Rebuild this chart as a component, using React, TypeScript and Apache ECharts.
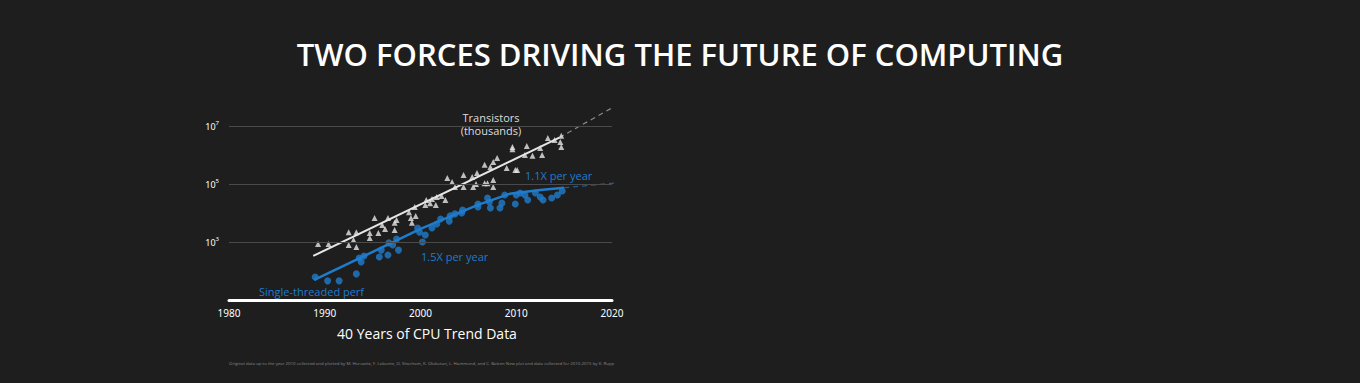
import React, { useEffect, useRef } from "react";
import * as echarts from "echarts";

// Transistor counts (thousands): [year, log10 value]
const transistorYears = [
  1989.3, 1990.4, 1992.5, 1993.3, 1992.5, 1993.3, 1993.0, 1994.7, 1994.7, 1995.2,
  1995.6, 1996.0, 1996.3, 1996.6, 1997.3, 1997.5, 1997.3, 1998.8, 1999.0, 1999.4,
  1999.1, 1999.5, 2000.5, 2000.6, 2001.0, 2001.2, 2001.6, 2001.7, 2002.2, 2002.6,
  2002.8, 2003.3, 2003.6, 2004.5, 2004.5, 2005.4, 2005.5, 2005.8, 2005.9, 2006.7,
  2006.7, 2007.0, 2007.3, 2007.6, 2007.6, 2007.6, 2008.0, 2009.0, 2009.6, 2009.6,
  2009.9, 2010.1, 2010.9, 2011.1, 2011.7, 2012.5, 2012.7, 2013.3, 2014.0, 2014.7,
  2014.6, 2014.7,
];
const transistorLog = [
  2.93, 2.93, 3.34, 3.34, 2.9, 2.83, 3.07, 3.31, 3.14, 3.83,
  3.31, 3.59, 3.45, 3.83, 3.66, 3.76, 3.41, 4.03, 3.83, 4.21,
  3.66, 3.9, 4.28, 4.45, 4.34, 4.48, 4.28, 4.55, 4.59, 4.45,
  5.21, 5.07, 4.9, 5.31, 4.9, 5.24, 4.9, 5.0, 5.38, 5.66,
  5.03, 5.03, 5.59, 5.76, 5.14, 4.9, 5.9, 5.55, 6.28, 6.2,
  5.48, 5.48, 6.0, 6.31, 5.97, 6.24, 6.0, 6.59, 6.52, 6.66,
  6.45, 6.28,
];

// Single-threaded performance: [year, log10 value]
const perfYears = [
  1989.0, 1990.3, 1991.5, 1993.3, 1993.6, 1993.8, 1994.1, 1995.7, 1995.9, 1996.6,
  1996.7, 1997.1, 1997.5, 1997.7, 1999.7, 1999.9, 2000.2, 2000.5, 2001.2, 2001.7,
  2002.1, 2003.0, 2003.1, 2003.6, 2004.3, 2004.4, 2006.0, 2006.0, 2007.0, 2007.2,
  2007.3, 2008.3, 2008.5, 2009.9, 2010.0, 2008.8, 2010.9, 2011.2, 2012.0, 2012.5,
  2012.8, 2013.7, 2014.3, 2014.8, 2010.4,
];
const perfLog = [
  1.79, 1.66, 1.66, 1.9, 2.45, 2.31, 2.52, 2.48, 2.72, 2.55,
  2.97, 2.9, 3.1, 2.72, 3.48, 3.34, 3.0, 3.24, 3.48, 3.62,
  3.79, 3.72, 3.9, 3.97, 4.0, 4.1, 4.31, 4.21, 4.52, 4.38,
  4.17, 4.17, 4.34, 4.31, 4.62, 4.62, 4.62, 4.45, 4.69, 4.55,
  4.45, 4.52, 4.62, 4.76, 4.69,
];

// Trend lines
const transistorTrendYears = [1988.8, 2014.5];
const transistorTrendLog = [2.52, 6.6];
const transistorProjYears = [2014.5, 2020.2];
const transistorProjLog = [6.6, 7.66];
const perfTrendYears = [1988.9, 2000.0, 2006.0, 2009.3, 2012.5, 2015.0];
const perfTrendLog = [1.69, 3.45, 4.28, 4.66, 4.79, 4.87];
const perfProjYears = [2015.0, 2020.2];
const perfProjLog = [4.87, 5.03];

const xTicks = [1980, 1990, 2000, 2010, 2020];
const yTickExponents = [3, 5, 7];

const zip = (a: number[], b: number[]) => a.map((v, i) => [v, b[i]]);

const WHITE = "#e6e6e6";
const BLUE = "#1f7ccc";

export default function App() {
  const ref = useRef<HTMLDivElement>(null);
  useEffect(() => {
    if (!ref.current) return;
    const chart = echarts.init(ref.current, null, { renderer: "svg" });
    chart.setOption({
      animation: false,
      backgroundColor: "#1e1e1e",
      grid: { left: 229, right: 748, top: 97, bottom: 83 },
      xAxis: {
        type: "value",
        min: xTicks[0],
        max: xTicks[xTicks.length - 1],
        interval: 10,
        axisLine: { show: true, lineStyle: { color: "#ffffff", width: 3 } },
        axisTick: { show: false },
        splitLine: { show: false },
        axisLabel: {
          color: "#ffffff",
          fontSize: 10,
          fontFamily: "Noto Sans",
          margin: 8,
          formatter: (v: number) => String(v),
        },
      },
      yAxis: {
        type: "value",
        min: 1,
        max: 8,
        interval: 2,
        axisLine: { show: false },
        axisTick: { show: false },
        splitLine: { show: false },
        axisLabel: {
          margin: 10,
          showMaxLabel: false,
          formatter: (v: number) =>
            yTickExponents.includes(v) ? "{b|10}{s|" + v + "}" : "",
          rich: {
            b: { color: "#ffffff", fontSize: 9, fontFamily: "Noto Sans" },
            s: { color: "#ffffff", fontSize: 6, fontFamily: "Noto Sans", verticalAlign: "top", padding: [0, 0, 6, 0] },
          },
        },
      },
      series: [
        {
          type: "line",
          data: zip(transistorProjYears, transistorProjLog),
          showSymbol: false,
          lineStyle: { color: "#8a8a8a", width: 1.2, type: [5, 4] },
          z: 1,
          markLine: {
            silent: true,
            symbol: "none",
            label: { show: false },
            lineStyle: { color: "#4a4a4a", width: 1, type: "solid" },
            data: yTickExponents.map((e) => ({ yAxis: e })),
          },
        },
        {
          type: "line",
          data: zip(perfProjYears, perfProjLog),
          showSymbol: false,
          lineStyle: { color: "#1b5f9c", width: 1.2, type: [5, 4] },
          z: 1,
        },
        {
          type: "scatter",
          data: zip(transistorYears, transistorLog),
          symbol: "triangle",
          symbolSize: 6,
          itemStyle: { color: WHITE },
          z: 2,
        },
        {
          type: "line",
          data: zip(transistorTrendYears, transistorTrendLog),
          showSymbol: false,
          lineStyle: { color: WHITE, width: 2 },
          z: 3,
        },
        {
          type: "scatter",
          data: zip(perfYears, perfLog),
          symbol: "circle",
          symbolSize: 7,
          itemStyle: { color: BLUE },
          z: 2,
        },
        {
          type: "line",
          data: zip(perfTrendYears, perfTrendLog),
          showSymbol: false,
          lineStyle: { color: BLUE, width: 2.5 },
          z: 3,
        },
      ],
      graphic: [
        {
          type: "text",
          left: "center",
          top: 38,
          style: {
            text: "TWO FORCES DRIVING THE FUTURE OF COMPUTING",
            fill: "#ffffff",
            fontSize: 31,
            fontWeight: 600,
            fontFamily: "Open Sans",
          },
        },
        {
          type: "text",
          x: 491,
          y: 111,
          style: {
            text: "Transistors\n(thousands)",
            fill: "#dddddd",
            fontSize: 11,
            lineHeight: 13,
            fontFamily: "Open Sans",
            textAlign: "center",
          },
        },
        {
          type: "text",
          x: 525,
          y: 170,
          style: { text: "1.1X per year", fill: BLUE, fontSize: 11, fontFamily: "Open Sans" },
        },
        {
          type: "text",
          x: 421,
          y: 251,
          style: { text: "1.5X per year", fill: BLUE, fontSize: 11, fontFamily: "Open Sans" },
        },
        {
          type: "text",
          x: 259,
          y: 286,
          style: { text: "Single-threaded perf", fill: BLUE, fontSize: 11, fontFamily: "Open Sans" },
        },
        {
          type: "text",
          x: 427,
          y: 326,
          style: {
            text: "40 Years of CPU Trend Data",
            fill: "#ffffff",
            fontSize: 14,
            fontFamily: "Open Sans",
            textAlign: "center",
          },
        },
        {
          type: "text",
          x: 229,
          y: 361,
          style: {
            text:
              "Original data up to the year 2010 collected and plotted by M. Horowitz, F. Labonte, O. Shacham, K. Olukotun, L. Hammond, and C. Batten New plot and data collected for 2010-2015 by K. Rupp",
            fill: "#8a8a8a",
            fontSize: 4.35,
            fontFamily: "Open Sans",
          },
        },
      ],
    });
    return () => chart.dispose();
  }, []);
  return (
    <div
      ref={ref}
      style={{ position: "fixed", left: 0, top: 0, width: 1360, height: 383 }}
    />
  );
}
